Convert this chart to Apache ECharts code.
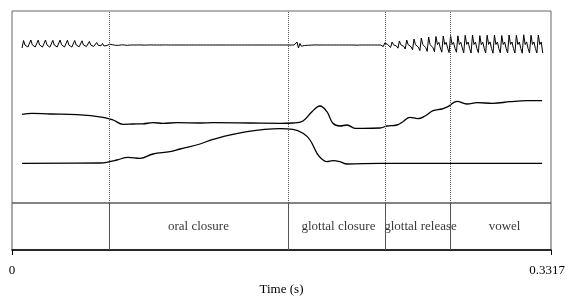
<!DOCTYPE html>
<html>
<head>
<meta charset="utf-8">
<title>Closure and release</title>
<script src="https://cdn.jsdelivr.net/npm/echarts@6/dist/echarts.min.js"></script>
<style>
  body { margin: 0; background: #fff; }
  #main { width: 568px; height: 299px; }
</style>
</head>
<body>
<div id="main"></div>
<script type="text/javascript">
  // time axis
  var T_END = 0.3317;
  var tickLabels = ['0', '0.3317'];

  // text tier: interval boundaries (s) and labels
  var tierBounds = [0, 0.0560, 0.1735, 0.2283, 0.2745, 0.3317];
  var tierNames = ['', 'oral closure', 'glottal closure', 'glottal release', 'vowel'];

  // waveform, sampled every waveStep seconds from waveStart
  var waveStart = 0.0062, waveStep = 0.0009;
  var waveOnset = [
    -0.3, 0.45, 0.0, 0.15, -0.2,   -0.35, 0.5, 0.02, 0.15, -0.2,
    -0.35, 0.48, 0.0, 0.14, -0.2,  -0.36, 0.5, 0.01, 0.15, -0.22,
    -0.34, 0.47, 0.0, 0.14, -0.2,  -0.35, 0.5, 0.02, 0.15, -0.2,
    -0.35, 0.48, 0.0, 0.14, -0.21, -0.33, 0.45, 0.0, 0.13, -0.18,
    -0.3, 0.42, 0.0, 0.12, -0.16,  -0.25, 0.35, 0.0, 0.1, -0.14,
    -0.18, 0.25, -0.02, 0.08, -0.08
  ];
  var waveClosure = [
    0.15, -0.1, 0.05, -0.05, 0, 0.08, -0.06, 0.02, 0, -0.03, 0.05, -0.04, 0, 0.02, -0.02, 0, 0.03, -0.03, 0, 0, 0.02,
    0, -0.01, 0, 0, 0.01, 0, 0, 0, -0.01, 0, 0, 0, 0.01, 0, 0, 0, 0, -0.01, 0, 0,
    0, 0, 0.01, 0, 0, 0, 0, 0, 0, -0.01, 0, 0, 0, 0, 0, 0.01, 0, 0, 0, 0,
    0, 0, 0, 0, 0, 0, 0, 0, 0, 0, 0, 0, 0, 0, 0, 0, 0, 0, 0, 0,
    0, 0, 0, 0, 0, 0, 0, 0, 0, 0, 0, 0, 0, 0, 0, 0, 0, 0, 0, 0,
    0, 0, 0, 0, 0, 0, 0, 0, 0, 0, 0, 0, 0, 0, 0, 0, 0, 0, 0, 0,
    0, 0, 0, 0, 0, 0, 0, 0, 0, 0, 0,
    0.1, 0.3, -0.3, 0.15, -0.12, 0.08, -0.05, 0.04,
    -0.03, 0.03, -0.02, 0.02, 0, -0.02, 0.01, 0, 0, 0.01, 0, 0, 0, 0, 0, 0, 0, 0, 0, 0,
    0, 0, 0, 0, 0, 0, 0, 0, 0, 0, 0, 0, 0, 0.02, -0.02, 0.01, 0, 0, 0, 0,
    0, 0, 0, 0, 0, 0, 0, 0, 0, 0, 0, 0
  ];
  var waveVowel = [
    -0.15, 0.2, 0, 0.05, -0.05,      -0.24, 0.3, 0.02, 0.09, -0.1,
    -0.32, 0.4, 0.02, 0.12, -0.14,   -0.4, 0.5, 0.03, 0.15, -0.18,
    -0.48, 0.6, 0.03, 0.18, -0.21,   -0.56, 0.7, 0.04, 0.21, -0.25,
    -0.64, 0.8, 0.04, 0.24, -0.28,   -0.68, 0.85, 0.04, 0.26, -0.3,
    -0.72, 0.9, 0.05, 0.27, -0.32,   -0.76, 0.95, 0.05, 0.28, -0.33,
    -0.72, 0.92, 0.05, 0.27, -0.3,   -0.78, 0.97, 0.06, 0.3, -0.34,
    -0.8, 1.0, 0.05, 0.3, -0.35,     -0.76, 0.94, 0.04, 0.28, -0.33,
    -0.8, 0.98, 0.06, 0.31, -0.35,   -0.82, 1.0, 0.05, 0.3, -0.36,
    -0.78, 0.95, 0.05, 0.29, -0.34,  -0.8, 1.0, 0.06, 0.3, -0.35,
    -0.8, 0.97, 0.05, 0.29, -0.34,   -0.82, 1.02, 0.05, 0.31, -0.36,
    -0.8, 0.98, 0.05, 0.3, -0.35,    -0.8, 1.0, 0.05, 0.3, -0.8
  ];

  // the two smooth tracks: [time (s), value]
  var upperTrack = [
    [0.0062, 8.87], [0.0123, 8.97], [0.0234, 8.90], [0.0400, 8.83], [0.0560, 8.57],
    [0.0622, 8.30], [0.0683, 7.87], [0.0745, 7.90], [0.0806, 7.92], [0.0868, 8.03],
    [0.0929, 7.97], [0.1015, 8.03], [0.1157, 8.00], [0.1237, 8.03], [0.1465, 8.00],
    [0.1649, 7.97], [0.1729, 8.00], [0.1791, 8.20], [0.1846, 9.13], [0.1895, 9.70],
    [0.1938, 9.13], [0.1975, 7.97], [0.2018, 7.70], [0.2062, 7.80], [0.2111, 7.47],
    [0.2160, 7.47], [0.2265, 7.50], [0.2308, 7.70], [0.2369, 7.80], [0.2406, 8.13],
    [0.2449, 8.57], [0.2498, 8.43], [0.2542, 8.70], [0.2591, 9.23], [0.2646, 9.40],
    [0.2683, 9.63], [0.2738, 10.17], [0.2800, 9.90], [0.2862, 10.03], [0.2960, 9.97],
    [0.3065, 10.13], [0.3169, 10.23], [0.3262, 10.23]
  ];
  var lowerTrack = [
    [0.0062, 3.97], [0.0542, 4.00], [0.0603, 4.13], [0.0646, 4.30], [0.0714, 4.57],
    [0.0788, 4.47], [0.0868, 4.90], [0.0972, 5.13], [0.1034, 5.40], [0.1157, 5.90],
    [0.1237, 6.37], [0.1446, 7.13], [0.1649, 7.43], [0.1729, 7.37], [0.1791, 6.97],
    [0.1834, 6.30], [0.1877, 4.97], [0.1908, 4.37], [0.1938, 4.13], [0.1975, 4.23],
    [0.2018, 4.13], [0.2062, 3.90], [0.2265, 3.97], [0.3262, 3.97]
  ];

  var FONT = 'Liberation Serif';

  function init_chart() {
    var myChart = echarts.init(document.getElementById('main'), null, {renderer: 'canvas'});

    var wave = waveOnset.concat(waveClosure, waveVowel).map(function (v, i) {
      return [waveStart + i * waveStep, v];
    });

    var tierData = [];
    for (var i = 0; i < tierNames.length; i++) {
      tierData.push({
        value: [(tierBounds[i] + tierBounds[i + 1]) / 2, 0.5],
        name: tierNames[i]
      });
    }
    var inner = tierBounds.slice(1, -1).map(function (t) { return {xAxis: t}; });

    var option = {
      animation: false,
      grid: [
        {left: 12, right: 17, top: 11, height: 192, show: true, outerBoundsMode: 'none',
         borderColor: '#666', borderWidth: 1, backgroundColor: 'transparent'},
        {left: 12, right: 17, top: 203, height: 47, show: true, outerBoundsMode: 'none',
         borderColor: '#555', borderWidth: 1, backgroundColor: 'transparent'}
      ],
      xAxis: [
        {gridIndex: 0, type: 'value', min: 0, max: T_END, show: false},
        {gridIndex: 1, type: 'value', min: 0, max: T_END, interval: T_END,
         name: 'Time (s)', nameLocation: 'middle', nameGap: 33,
         nameTextStyle: {fontFamily: FONT, fontSize: 13, color: '#000'},
         axisLine: {show: true, lineStyle: {color: '#000', width: 1.5}},
         axisTick: {show: true, length: 5, lineStyle: {color: '#000'}},
         splitLine: {show: false},
         axisLabel: {
           margin: 14, fontFamily: FONT, fontSize: 13, color: '#000',
           showMinLabel: true, showMaxLabel: true,
           formatter: function (v) {
             return v < T_END / 2 ? tickLabels[0] : '{m|' + tickLabels[1] + '}';
           },
           rich: {m: {fontFamily: FONT, fontSize: 13, color: '#000', padding: [0, 8, 0, 0]}}
         }}
      ],
      yAxis: [
        {gridIndex: 0, type: 'value', min: 0, max: 19.2, show: false},
        {gridIndex: 0, type: 'value', min: -15.8, max: 3.4, show: false},
        {gridIndex: 1, type: 'value', min: 0, max: 1, show: false}
      ],
      series: [
        {
          type: 'line', xAxisIndex: 0, yAxisIndex: 1, data: wave,
          showSymbol: false, symbol: 'none',
          lineStyle: {color: '#000', width: 1}
        },
        {
          type: 'line', xAxisIndex: 0, yAxisIndex: 0, data: upperTrack,
          smooth: 0.4, showSymbol: false, symbol: 'none',
          lineStyle: {color: '#000', width: 1.3},
          markLine: {
            silent: true, symbol: 'none', label: {show: false},
            lineStyle: {color: '#555', type: 'dotted', width: 1},
            data: inner
          }
        },
        {
          type: 'line', xAxisIndex: 0, yAxisIndex: 0, data: lowerTrack,
          smooth: 0.4, showSymbol: false, symbol: 'none',
          lineStyle: {color: '#000', width: 1.3}
        },
        {
          type: 'scatter', xAxisIndex: 1, yAxisIndex: 2, data: tierData,
          symbolSize: 1, itemStyle: {color: 'rgba(0,0,0,0)'},
          label: {
            show: true, position: 'inside', formatter: '{b}',
            fontFamily: FONT, fontSize: 13, color: '#000'
          },
          markLine: {
            silent: true, symbol: 'none', label: {show: false},
            lineStyle: {color: '#555', type: 'solid', width: 1},
            data: inner
          }
        }
      ]
    };
    myChart.setOption(option);
    return myChart;
  }

  init_chart();
</script>
</body>
</html>
